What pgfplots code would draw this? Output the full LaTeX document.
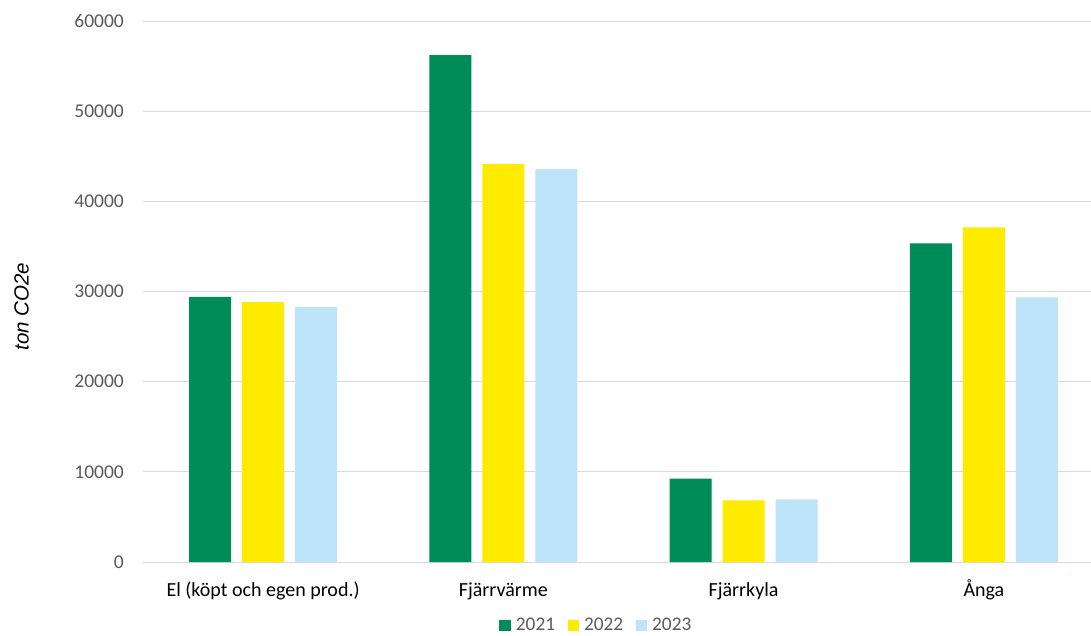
\documentclass[border=0pt]{standalone}
\usepackage{fontspec}
\setmainfont{Carlito}
\newfontfamily\arialfont{Liberation Sans}
\usepackage{pgfplots}
\pgfplotsset{compat=1.18}
\definecolor{g21}{RGB}{0,140,88}
\definecolor{y22}{RGB}{255,235,0}
\definecolor{b23}{RGB}{189,228,249}
\definecolor{tickgray}{RGB}{89,89,89}
\definecolor{gridgray}{RGB}{217,217,217}
\begin{document}
\begin{tikzpicture}
\begin{axis}[
  at={(0,0)}, anchor=south west,
  scale only axis,
  width=948pt, height=541pt,
  ybar=11pt, bar width=42pt,
  xmin=-0.5, xmax=3.446,
  ymin=0, ymax=60000,
  ytick={0,10000,20000,30000,40000,50000,60000},
  scaled y ticks=false,
  xtick={0,1,2,3},
  xticklabels={El (köpt och egen prod.),Fjärrvärme,Fjärrkyla,Ånga},
  ymajorgrids,
  major grid style={draw=gridgray, line width=1pt},
  axis line style={draw=none},
  major tick length=0pt,
  /pgf/number format/1000 sep={},
  /pgf/number format/assume math mode=true,
  yticklabel style={font=\fontsize{19.5}{23}\selectfont, text=tickgray, anchor=east, inner sep=0pt, xshift=-19pt, /pgf/number format/fixed},
  xticklabel style={font=\fontsize{20}{24}\selectfont, text=black, anchor=base, inner sep=0pt, yshift=-34pt},
  ylabel={\arialfont\itshape ton CO2e},
  ylabel style={font=\fontsize{20.5}{24}\selectfont, at={(axis description cs:-0.1282,0.472)}, anchor=center},
  legend style={at={(axis description cs:0.478,-0.117)}, anchor=center, draw=none, fill=none,
    font=\fontsize{19.3}{23}\selectfont, text=tickgray,
    legend columns=3,
    /tikz/every even column/.append style={column sep=11pt},
    nodes={inner sep=1.5pt}},
  legend image code/.code={\fill[#1] (0pt,-5.75pt) rectangle (11.5pt,5.75pt); \path (15pt,0pt);},
]
\addplot[fill=g21, draw=none] coordinates {(0,29410) (1,56210) (2,9240) (3,35330)};
\addplot[fill=y22, draw=none] coordinates {(0,28820) (1,44120) (2,6840) (3,37100)};
\addplot[fill=b23, draw=none] coordinates {(0,28270) (1,43570) (2,6950) (3,29340)};
\legend{2021,2022,2023}
\end{axis}
\pgfresetboundingbox
\path[use as bounding box] (-143pt,-73pt) rectangle (948pt,562pt);
\end{tikzpicture}
\end{document}
